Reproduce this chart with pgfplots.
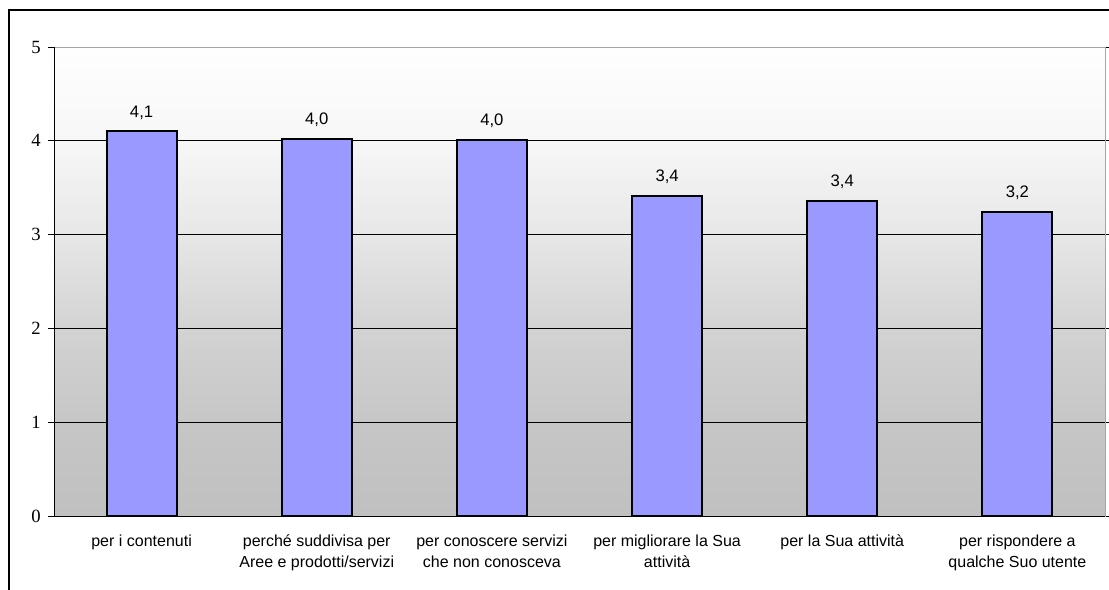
\documentclass[border=0pt]{standalone}
\usepackage{fontspec}
\setmainfont{Liberation Serif}
\setsansfont{Liberation Sans}
\usepackage{pgfplots}
\pgfplotsset{compat=1.18}
\definecolor{barblue}{HTML}{9999FF}
\definecolor{g0}{HTML}{C0C0C0}
\definecolor{g1}{HTML}{C6C6C6}
\definecolor{g2}{HTML}{D3D3D3}
\definecolor{g3}{HTML}{E7E7E7}
\definecolor{g4}{HTML}{F7F7F7}
\definecolor{g5}{HTML}{FEFEFE}
\pgfdeclareverticalshading{bgshade}{100bp}{color(0bp)=(g0); color(25bp)=(g0); color(35bp)=(g1); color(45bp)=(g2); color(55bp)=(g3); color(65bp)=(g4); color(75bp)=(g5); color(100bp)=(g5)}
\begin{document}
\begin{tikzpicture}
\useasboundingbox (0,0) rectangle (831.75pt,441.75pt);
\draw[black, line width=0.9pt] (6.75pt,-5pt) -- (6.75pt,434.25pt) -- (840pt,434.25pt);
\begin{axis}[
  at={(40.5pt,54.75pt)}, anchor=south west,
  scale only axis, width=788.25pt, height=351.75pt,
  xmin=-0.5, xmax=5.5, ymin=0, ymax=5,
  ybar,
  axis background/.style={shading=bgshade},
  axis line style={gray!70, line width=0.6pt},
  tick align=outside,
  ytick={0,...,5},
  xtick={0,...,5},
  xticklabels={per i contenuti,{perché suddivisa per\\Aree e prodotti/servizi},{per conoscere servizi\\che non conosceva},{per migliorare la Sua\\attività},per la Sua attività,{per rispondere a\\qualche Suo utente}},
  x tick label style={font=\sffamily\fontsize{12}{15.75}\selectfont, align=center, anchor=north, yshift=-6pt},
  y tick label style={font=\rmfamily\fontsize{14}{15}\selectfont, xshift=-2pt},
  /pgf/number format/assume math mode=true,
  xtick style={draw=none},
  minor xtick={-0.5,0.5,...,5.5},
  minor tick length=4.5pt,
  minor tick style={black, line width=0.6pt},
  major tick length=4.5pt,
  ytick style={black, line width=0.6pt},
  ymajorgrids,
  major grid style={black, line width=0.5pt},
]
\addplot[ybar, bar width=52.5pt, fill=barblue, draw=black, line width=1.5pt,
  nodes near coords,
  nodes near coords style={font=\sffamily\fontsize{12.5}{14}\selectfont, yshift=5pt,
    /pgf/number format/use comma, /pgf/number format/fixed, /pgf/number format/fixed zerofill, /pgf/number format/precision=1}]
  coordinates {(0,4.1) (1,4.02) (2,4.01) (3,3.41) (4,3.36) (5,3.24)};
\draw[gray!70, line width=0.7pt] (rel axis cs:0,1) -- (rel axis cs:1,1) -- (rel axis cs:1,0);
\draw[black, line width=0.6pt] (rel axis cs:0,1) -- (rel axis cs:0,0) -- (rel axis cs:1,0);
\end{axis}
\end{tikzpicture}
\end{document}
